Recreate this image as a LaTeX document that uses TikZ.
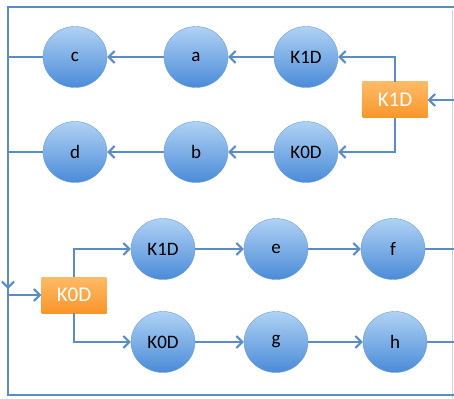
\documentclass[tikz,border=0pt]{standalone}
\usepackage{fontspec}
\setmainfont{Carlito}
\usepackage{tikz}
\usetikzlibrary{shapes.geometric,arrows.meta,calc}
\usepackage{xcolor}
\definecolor{WireBlue}{HTML}{5A8CC8}
\definecolor{BubbleTop}{HTML}{B0D2F4}
\definecolor{BubbleBottom}{HTML}{4A8BD8}
\definecolor{BubbleEdge}{HTML}{6C9FDA}
\definecolor{SwitchTop}{HTML}{FFBA66}
\definecolor{SwitchBottom}{HTML}{F8962A}

\tikzset{
  bubble/.style={ellipse,minimum width=64pt,minimum height=61pt,inner sep=0pt,
    top color=BubbleTop,bottom color=BubbleBottom,draw=BubbleEdge,line width=0.4pt,
    font=\fontsize{19}{21}\selectfont},
  switchbox/.style={rectangle,minimum width=65pt,minimum height=36pt,inner sep=0pt,
    top color=SwitchTop,bottom color=SwitchBottom,draw=none,text=white,
    font=\fontsize{21}{23}\selectfont},
  wire/.style={draw=WireBlue,line width=2.2pt},
  flow/.style={wire,-{Straight Barb[length=6pt,width=12pt,line width=2pt]}}
}

\begin{document}
\begin{tikzpicture}[x=1pt,y=-1pt]
   \useasboundingbox (0,0) rectangle (454,398);

   \coordinate (tl) at (8,7);
   \coordinate (tr) at (454,7);
   \coordinate (bl) at (8,395);
   \coordinate (br) at (454,395);
   \coordinate (drop) at (8,289);
   \coordinate (join) at (8,295);
   \coordinate (rin) at (454,100);
   \coordinate (fout) at (454,249);
   \coordinate (hout) at (454,342);

   \draw[black!18,line width=0.8pt] (452,10) -- (452,398);

   % upper half
   \node[bubble] (c) at (75,57) {c};
   \node[bubble] (a) at (196,57) {a};
   \node[bubble] (k1up) at (306,57) {K1D};
   \node[bubble] (d) at (75,152) {d};
   \node[bubble] (b) at (196,152) {b};
   \node[bubble] (k0up) at (306,152) {K0D};
   \node[switchbox] (sw1) at (395,100) {K1D};

   % lower half
   \node[switchbox] (sw0) at (74,295) {K0D};
   \node[bubble] (k1lo) at (163,249) {K1D};
   \node[bubble] (e) at (276,249) {e};
   \node[bubble] (f) at (393,249) {f};
   \node[bubble] (k0lo) at (163,342) {K0D};
   \node[bubble] (g) at (276,342) {g};
   \node[bubble] (h) at (395,342) {h};

   \draw[wire] (tr) -- (tl) -- (bl) -- (br);
   \draw[flow] (tl) -- (drop);
   \draw[flow] (join) -- (sw0);
   \draw[flow] (rin) -- (sw1);

   \draw[flow] (sw1.north) |- (k1up);
   \draw[flow] (sw1.south) |- (k0up);
   \draw[flow] (k1up) -- (a);
   \draw[flow] (a) -- (c);
   \draw[flow] (k0up) -- (b);
   \draw[flow] (b) -- (d);
   \draw[wire] (c.west) -- (c.west -| tl);
   \draw[wire] (d.west) -- (d.west -| tl);

   \draw[flow] (sw0.north) |- (k1lo);
   \draw[flow] (sw0.south) |- (k0lo);
   \draw[flow] (k1lo) -- (e);
   \draw[flow] (e) -- (f);
   \draw[flow] (k0lo) -- (g);
   \draw[flow] (g) -- (h);
   \draw[wire] (f) -- (fout);
   \draw[wire] (h) -- (hout);
\end{tikzpicture}
\end{document}
